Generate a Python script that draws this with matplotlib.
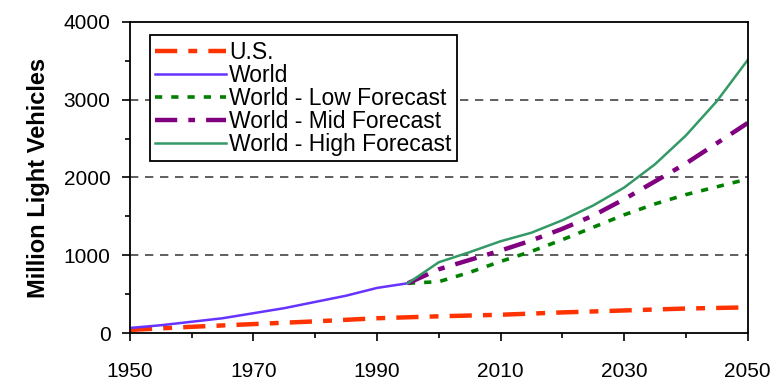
import matplotlib
matplotlib.use("Agg")
from matplotlib import pyplot as plt
from matplotlib.ticker import MultipleLocator

plt.rcParams['font.family'] = ['Liberation Sans', 'DejaVu Sans']

# data
us_years = [1950, 1960, 1970, 1980, 1990, 2000, 2010, 2020, 2030, 2040, 2050]
us_vals = [40, 80, 115, 150, 190, 215, 235, 265, 290, 315, 330]

world_years = [1950, 1955, 1960, 1965, 1970, 1975, 1980, 1985, 1990, 1995]
world_vals = [65, 100, 145, 190, 255, 320, 400, 480, 580, 640]

fc_years = [1995, 2000, 2005, 2010, 2015, 2020, 2025, 2030, 2035, 2040, 2045, 2050]
low_vals = [640, 660, 780, 920, 1050, 1200, 1360, 1520, 1660, 1780, 1880, 1980]
mid_vals = [640, 820, 940, 1060, 1190, 1340, 1510, 1720, 1950, 2180, 2440, 2700]
high_vals = [640, 910, 1040, 1180, 1290, 1450, 1640, 1870, 2170, 2540, 2980, 3510]

fig = plt.figure(figsize=(7.78, 3.85), dpi=100)
ax = fig.add_axes([0.167, 0.135, 0.794, 0.808])

ax.plot(us_years, us_vals, color='#ff3300', lw=3.2, dashes=(5, 2.5, 2, 2.5), label='U.S.')
ax.plot(world_years, world_vals, color='#6633ff', lw=1.8, label='World')
ax.plot(fc_years, low_vals, color='#008000', lw=2.6, dashes=(2, 2.5), label='World - Low Forecast')
ax.plot(fc_years, mid_vals, color='#800080', lw=3.2, dashes=(5, 2.5, 1.5, 2.5), label='World - Mid Forecast')
ax.plot(fc_years, high_vals, color='#339966', lw=1.8, label='World - High Forecast')

for yv in [1000, 2000, 3000]:
    ax.axhline(yv, color='#444444', lw=1.2, dashes=(5, 4), zorder=0)

ax.set_xlim(1950, 2050)
ax.set_ylim(0, 4000)
ax.set_xticks(range(1950, 2051, 20))
ax.xaxis.set_minor_locator(MultipleLocator(10))
ax.set_yticks(range(0, 4001, 1000))
ax.yaxis.set_minor_locator(MultipleLocator(500))
ax.tick_params(which='major', length=6, width=1.2, labelsize=15)
ax.tick_params(axis='x', which='major', pad=15)
ax.tick_params(axis='y', which='major', pad=8)
ax.tick_params(which='minor', length=3.5, width=1.2)
for sp in ax.spines.values():
    sp.set_linewidth(1.3)

ax.set_ylabel('Million Light Vehicles', fontsize=17, fontweight='bold', labelpad=10)

leg = ax.legend(loc='upper left', bbox_to_anchor=(0.032, 0.958), fontsize=16.5,
                handlelength=3.1, handletextpad=0.12, labelspacing=0.0,
                borderpad=0.25, borderaxespad=0, fancybox=False, framealpha=1,
                edgecolor='black')
leg.get_frame().set_linewidth(1.3)

plt.savefig('out.png', dpi=100)
plt.close()
